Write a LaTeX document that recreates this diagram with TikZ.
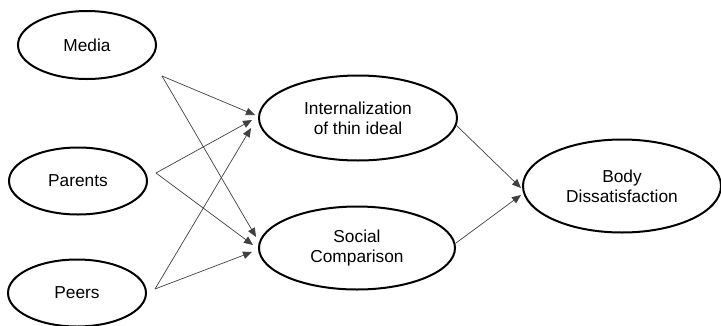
\documentclass[tikz,border=0pt]{standalone}
\usepackage{fontspec}
\setmainfont{Liberation Sans}
\usetikzlibrary{shapes.geometric, arrows.meta}

\begin{document}
\begin{tikzpicture}[
    x=1pt, y=-1pt,
    factor/.style={ellipse, draw, line width=2pt, inner sep=0pt, align=center, font=\fontsize{17.3}{20}\selectfont},
    arrow/.style={-{Triangle[length=9pt, width=7.5pt]}, line width=0.7pt, black!75}
]
    \useasboundingbox (0,0) rectangle (721,325);

    % Sources of pressure
    \node[factor, minimum width=138pt, minimum height=68pt] (media) at (87,45) {Media};
    \node[factor, minimum width=138pt, minimum height=67pt] (parents) at (78,181) {Parents};
    \node[factor, minimum width=138pt, minimum height=67pt] (peers) at (77,293) {Peers};

    % Mediators
    \node[factor, minimum width=198pt, minimum height=85pt] (internal) at (358,118) {Internalization\\of thin ideal};
    \node[factor, minimum width=196pt, minimum height=83pt] (social) at (357,248) {Social\\Comparison};

    % Outcome
    \node[factor, minimum width=198pt, minimum height=93pt] (body) at (622,186) {Body\\Dissatisfaction};

    % Paths into the mediators
    \draw[arrow] ([shift={(5,31)}]media.east) -- ([shift={(-3,-3)}]internal.west);
    \draw[arrow] ([shift={(5,31)}]media.east) -- ([shift={(-2,-11)}]social.west);
    \draw[arrow] ([shift={(8,-8)}]parents.east) -- ([shift={(-6,2)}]internal.west);
    \draw[arrow] ([shift={(8,-8)}]parents.east) -- ([shift={(-5,-3)}]social.west);
    \draw[arrow] ([shift={(8,-4)}]peers.east) -- ([shift={(-7,10)}]internal.west);
    \draw[arrow] ([shift={(8,-4)}]peers.east) -- ([shift={(-6,4)}]social.west);

    % Paths into the outcome
    \draw[arrow] ([shift={(-2,7)}]internal.east) -- ([shift={(-1,2)}]body.west);
    \draw[arrow] ([shift={(0,-5)}]social.east) -- ([shift={(-1,9)}]body.west);

\end{tikzpicture}
\end{document}
